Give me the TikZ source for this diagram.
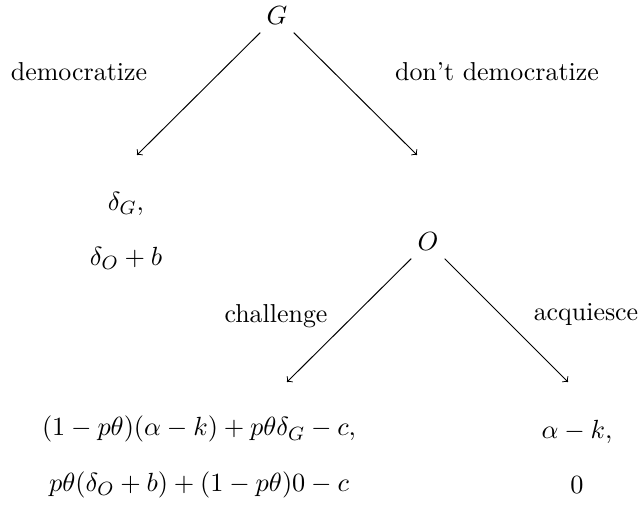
\documentclass[tikz,border=0pt]{standalone}
\usepackage{tikz}
\usetikzlibrary{positioning}

\begin{document}
\begin{tikzpicture}[
  x=0.4167pt,y=-0.4167pt,
  every node/.append style={font=\fontsize{10.8pt}{13pt}\selectfont},
  player/.style={inner sep=3pt},
  act/.style={inner sep=0pt},
  pay/.style={align=center,inner sep=0pt},
  arr/.style={->,line width=0.4pt}]
  \useasboundingbox (0,0) rectangle (641,506);

  % decision nodes
  \node[player] (G) at (277,16) {$G$};
  \node[player] (O) at (428,242) {$O$};

  % payoffs
  \node[pay] (payDem) at (126,231) {$\delta_G,$\\[10pt]$\delta_O+b$};
  \node[pay] (payCh) at (199,457) {$(1-p\theta)(\alpha-k)+p\theta\delta_G-c,$\\[10pt]$p\theta(\delta_O+b)+(1-p\theta)0-c$};
  \node[pay] (payAq) at (577,457) {$\alpha-k,$\\[10pt]$0$};

  % arrow ends
  \coordinate (endDem) at (137,155);
  \coordinate (endNot) at (417,155);
  \coordinate (endCh) at (287,382);
  \coordinate (endAq) at (568,382);

  \draw[arr] (G) -- (endDem);
  \draw[arr] (G) -- (endNot);
  \draw[arr] (O) -- (endCh);
  \draw[arr] (O) -- (endAq);

  \node[act] (dem) at (79,72) {democratize};
  \node[act] (notdem) at (497,72) {don't democratize};
  \node[act] (chal) at (276,316) {challenge};
  \node[act] (acq) at (586,315) {acquiesce};
\end{tikzpicture}
\end{document}
